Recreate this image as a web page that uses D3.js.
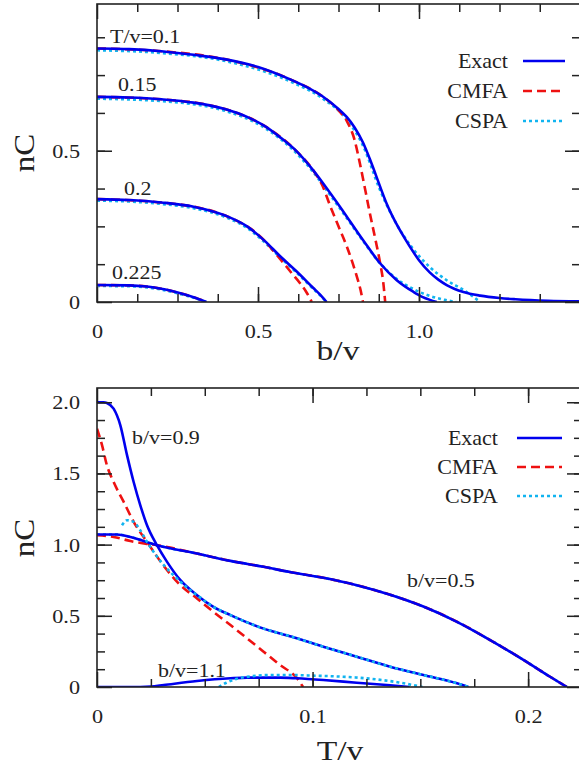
<!DOCTYPE html>
<html lang="en">
<head>
<meta charset="UTF-8">
<title>nC</title>
<script src="https://d3js.org/d3.v7.min.js"></script>
<style>
    body { margin: 0; background: #fff; }
</style>
</head>
<body>
<script>

const width  = 579;
const height = 771;

// ---- top panel: nC vs b/v ----
const topXMajor  = [0, 0.5, 1.0, 1.5];
const topXLabels = ["0", "0.5", "1.0", ""];
const topYMajor  = [0, 0.5];
const topYLabels = ["0", "0.5"];
const topLabels  = ["T/v=0.1", "0.15", "0.2", "0.225"];

const exactT010 = [[0,0.838],[0.1,0.836],[0.2,0.829],[0.3,0.817],[0.4,0.802],[0.5,0.777],[0.6,0.736],[0.65,0.711],[0.7,0.68],[0.75,0.638],[0.776,0.611],[0.8,0.577],[0.826,0.527],[0.85,0.465],[0.879,0.382],[0.9,0.324],[0.93,0.258],[0.96,0.203],[0.982,0.166],[1.0,0.138],[1.034,0.097],[1.06,0.074],[1.086,0.056],[1.138,0.033],[1.19,0.021],[1.25,0.013],[1.3,0.009],[1.4,0.004],[1.5,0.002]];
const cmfaT010  = [[0,0.838],[0.2,0.829],[0.4,0.802],[0.6,0.736],[0.7,0.68],[0.75,0.634],[0.776,0.598],[0.8,0.535],[0.817,0.455],[0.835,0.36],[0.848,0.29],[0.865,0.205],[0.879,0.13],[0.889,0.065],[0.895,0]];
const cspaT010  = [[0,0.832],[0.2,0.823],[0.4,0.796],[0.6,0.729],[0.7,0.673],[0.776,0.603],[0.826,0.517],[0.879,0.37],[0.93,0.258],[0.982,0.175],[1.034,0.115],[1.086,0.072],[1.138,0.04],[1.17,0.016],[1.19,0]];

const exactT015 = [[0,0.678],[0.1,0.676],[0.2,0.670],[0.3,0.659],[0.4,0.637],[0.466,0.612],[0.52,0.582],[0.568,0.545],[0.621,0.497],[0.671,0.436],[0.724,0.36],[0.776,0.282],[0.826,0.205],[0.879,0.128],[0.93,0.073],[0.982,0.034],[1.01,0.017],[1.034,0.007],[1.055,0]];
const cmfaT015  = [[0,0.678],[0.2,0.670],[0.4,0.637],[0.52,0.582],[0.621,0.497],[0.671,0.436],[0.7,0.385],[0.724,0.318],[0.75,0.25],[0.776,0.183],[0.795,0.125],[0.807,0.084],[0.818,0.042],[0.826,0]];
const cspaT015  = [[0,0.672],[0.2,0.664],[0.4,0.631],[0.52,0.576],[0.621,0.49],[0.671,0.43],[0.724,0.354],[0.776,0.277],[0.826,0.202],[0.879,0.128],[0.93,0.077],[0.982,0.043],[1.034,0.02],[1.08,0.007],[1.115,0]];

const exactT020 = [[0,0.340],[0.1,0.337],[0.2,0.329],[0.3,0.315],[0.4,0.285],[0.466,0.250],[0.52,0.203],[0.568,0.152],[0.621,0.100],[0.671,0.047],[0.695,0.022],[0.713,0]];
const cmfaT020  = [[0,0.340],[0.2,0.329],[0.4,0.285],[0.52,0.203],[0.555,0.16],[0.58,0.128],[0.605,0.095],[0.63,0.063],[0.65,0.033],[0.667,0]];
const cspaT020  = [[0,0.335],[0.1,0.332],[0.2,0.324],[0.3,0.310],[0.4,0.280],[0.466,0.245],[0.52,0.198],[0.568,0.148],[0.621,0.096],[0.671,0.044],[0.695,0.02],[0.713,0]];

const exactT0225 = [[0,0.056],[0.1,0.055],[0.155,0.051],[0.2,0.044],[0.259,0.029],[0.3,0.016],[0.34,0]];
const cmfaT0225  = [[0,0.056],[0.1,0.055],[0.155,0.051],[0.2,0.044],[0.259,0.029],[0.3,0.016],[0.34,0]];
const cspaT0225  = [[0,0.053],[0.1,0.052],[0.155,0.048],[0.2,0.041],[0.259,0.026],[0.3,0.014],[0.338,0]];

// ---- bottom panel: nC vs T/v ----
const botXMajor  = [0, 0.1, 0.2];
const botXLabels = ["0", "0.1", "0.2"];
const botYMajor  = [0, 0.5, 1.0, 1.5, 2.0];
const botYLabels = ["0", "0.5", "1.0", "1.5", "2.0"];
const botLabels  = ["b/v=0.9", "b/v=0.5", "b/v=1.1"];

const exactB09 = [[0,2.0],[0.003,2.0],[0.0046,1.995],[0.0077,1.955],[0.0108,1.84],[0.0139,1.63],[0.017,1.44],[0.0201,1.276],[0.0232,1.136],[0.0278,0.996],[0.0325,0.879],[0.0387,0.75],[0.0464,0.645],[0.054,0.563],[0.0619,0.505],[0.0773,0.41],[0.09,0.355],[0.105,0.283],[0.1205,0.213],[0.136,0.142],[0.1514,0.084],[0.167,0.026],[0.1723,0]];
const cmfaB09  = [[0,1.814],[0.0023,1.70],[0.0046,1.557],[0.0077,1.44],[0.0124,1.30],[0.017,1.16],[0.0232,1.019],[0.031,0.85],[0.0387,0.715],[0.0464,0.622],[0.054,0.528],[0.0619,0.435],[0.0696,0.342],[0.0773,0.248],[0.085,0.154],[0.0928,0.061],[0.0956,0]];
const cspaB09  = [[0.0116,1.136],[0.0139,1.171],[0.017,1.16],[0.0201,1.10],[0.0232,1.019],[0.0263,0.949],[0.031,0.856],[0.0371,0.762],[0.0433,0.68],[0.0464,0.645],[0.054,0.563],[0.0619,0.505],[0.0773,0.41],[0.09,0.355],[0.105,0.283],[0.1205,0.213],[0.136,0.142],[0.1514,0.084],[0.167,0.026],[0.1723,0]];

const exactB05 = [[0,1.071],[0.0093,1.071],[0.0155,1.054],[0.0278,0.996],[0.0464,0.937],[0.0619,0.886],[0.0773,0.844],[0.09,0.806],[0.105,0.767],[0.1205,0.715],[0.136,0.648],[0.1514,0.565],[0.167,0.458],[0.1824,0.33],[0.198,0.189],[0.2102,0.072],[0.218,0]];
const cmfaB05  = [[0,1.066],[0.0077,1.054],[0.0155,1.025],[0.0232,1.005],[0.0278,0.996],[0.0464,0.937],[0.0619,0.886],[0.0773,0.844],[0.09,0.806],[0.105,0.767],[0.1205,0.715],[0.136,0.648],[0.1514,0.565],[0.167,0.458],[0.1824,0.33],[0.198,0.189],[0.2102,0.072],[0.218,0]];
const cspaB05  = [[0,1.071],[0.0093,1.071],[0.0155,1.054],[0.0278,0.996],[0.0464,0.937],[0.0619,0.886],[0.0773,0.844],[0.09,0.806],[0.105,0.767],[0.1205,0.715],[0.136,0.648],[0.1514,0.565],[0.167,0.458],[0.1824,0.33],[0.198,0.189],[0.2102,0.072],[0.218,0]];

const exactB11 = [[0,0],[0.02,0],[0.025,0.003],[0.031,0.014],[0.0464,0.042],[0.0619,0.061],[0.0696,0.066],[0.085,0.066],[0.0928,0.061],[0.105,0.049],[0.1205,0.03],[0.136,0.012],[0.145,0]];
const cspaB11  = [[0.0565,0],[0.06,0.03],[0.065,0.058],[0.072,0.076],[0.08,0.084],[0.09,0.084],[0.1,0.08],[0.11,0.075],[0.12,0.067],[0.13,0.053],[0.14,0.032],[0.151,0]];

const legendNames = ["Exact", "CMFA", "CSPA"];

const styles = {
    exact: {color: "#0000ee", dash: null},
    cmfa:  {color: "#ee1111", dash: "9,5"},
    cspa:  {color: "#11b4f0", dash: "3,3"}
};

const serif = "'Liberation Serif', 'Times New Roman', Times";

const svg = d3.select("body").append("svg")
    .attr("width", width)
    .attr("height", height);

function addText(g, str, x, y, size, sx, anchor) {
    return g.append("text")
        .attr("transform", "translate(" + x + "," + y + ") scale(" + sx + ",1)")
        .attr("text-anchor", anchor || "start")
        .style("font-family", serif)
        .style("font-size", size + "px")
        .style("fill", "#222")
        .text(str);
}

function drawPanel(p) {
    const x = d3.scaleLinear().domain(p.xDomain).range([p.left, p.right]);
    const y = d3.scaleLinear().domain(p.yDomain).range([p.bottom, p.top]);
    const g = svg.append("g");

    g.append("clipPath").attr("id", p.id)
        .append("rect")
        .attr("x", p.left).attr("y", p.top)
        .attr("width", p.right - p.left).attr("height", p.bottom - p.top);

    const line = d3.line()
        .x(d => x(d[0]))
        .y(d => y(d[1]))
        .curve(d3.curveMonotoneX);

    const lines = g.append("g").attr("clip-path", "url(#" + p.id + ")");
    p.series.forEach(s => {
        const st = styles[s.type];
        lines.append("path")
            .attr("d", line(s.data))
            .attr("fill", "none")
            .attr("stroke", st.color)
            .attr("stroke-width", 2.6)
            .attr("stroke-dasharray", st.dash);
    });

    // ticks, all pointing inward
    const tickStyle = sel => {
        sel.select(".domain").remove();
        sel.attr("color", "#222");
        sel.selectAll("line").attr("stroke-width", 1.5);
    };
    const noLabel = () => "";

    const axes = [
        [d3.axisBottom(x).tickValues(p.xMinor).tickSize(-8).tickFormat(noLabel), 0, p.bottom],
        [d3.axisTop(x).tickValues(p.xMinor).tickSize(-8).tickFormat(noLabel), 0, p.top],
        [d3.axisTop(x).tickValues(p.xMajor).tickSize(-15).tickFormat(noLabel), 0, p.top],
        [d3.axisLeft(y).tickValues(p.yMinor).tickSize(-8).tickFormat(noLabel), p.left, 0],
        [d3.axisRight(y).tickValues(p.yMinor).tickSize(-8).tickFormat(noLabel), p.right, 0],
        [d3.axisRight(y).tickValues(p.yMajor).tickSize(-15).tickFormat(noLabel), p.right, 0]
    ];
    axes.forEach(a => {
        g.append("g").attr("transform", "translate(" + a[1] + "," + a[2] + ")")
            .call(a[0]).call(tickStyle);
    });

    g.append("g").attr("transform", "translate(0," + p.bottom + ")")
        .call(d3.axisBottom(x).tickValues(p.xMajor).tickSize(-15)
            .tickFormat((d, i) => p.xLabels[i]))
        .call(tickStyle)
        .selectAll("text")
        .attr("y", null).attr("dy", null)
        .attr("transform", "translate(0,36) scale(1.2,1)")
        .style("font-family", serif)
        .style("font-size", "18.5px").style("fill", "#222");

    g.append("g").attr("transform", "translate(" + p.left + ",0)")
        .call(d3.axisLeft(y).tickValues(p.yMajor).tickSize(-15)
            .tickFormat((d, i) => p.yLabels[i]))
        .call(tickStyle)
        .selectAll("text")
        .attr("x", null).attr("dy", null)
        .attr("transform", "translate(-17,6.5) scale(1.2,1)")
        .style("font-family", serif)
        .style("font-size", "18.5px").style("fill", "#222");

    // frame
    g.append("rect")
        .attr("x", p.left).attr("y", p.top)
        .attr("width", p.right - p.left).attr("height", p.bottom - p.top)
        .attr("fill", "none").attr("stroke", "#222").attr("stroke-width", 1.6);

    // axis titles
    addText(g, p.xTitle, p.xTitlePos[0], p.xTitlePos[1], 28, 1.2, "middle");
    g.append("text")
        .attr("transform", "translate(" + p.yTitlePos[0] + "," + p.yTitlePos[1] + ") rotate(-90) scale(1.1,1)")
        .attr("text-anchor", "middle")
        .style("font-family", serif)
        .style("font-size", "30px")
        .style("fill", "#222")
        .text("nC");

    // curve labels
    p.labels.forEach((t, i) => addText(g, t, p.labelPos[i][0], p.labelPos[i][1], 18, 1.22, "start"));

    // legend
    legendNames.forEach((name, i) => {
        const ly = p.legend.y + i * p.legend.dy;
        addText(g, name, p.legend.textX, ly, 22, 1, "end");
        const st = styles[name.toLowerCase()];
        g.append("line")
            .attr("x1", p.legend.x1).attr("x2", p.legend.x2)
            .attr("y1", ly - 7).attr("y2", ly - 7)
            .attr("stroke", st.color).attr("stroke-width", 2.6)
            .attr("stroke-dasharray", st.dash);
    });
}

drawPanel({
    id: "clipTop",
    left: 97, right: 580, top: 4, bottom: 302,
    xDomain: [0, 1.5], yDomain: [0, 0.985],
    xMajor: topXMajor, xLabels: topXLabels,
    xMinor: d3.range(0.125, 1.5, 0.125),
    yMajor: topYMajor, yLabels: topYLabels,
    yMinor: d3.range(0.125, 0.98, 0.125),
    xTitle: "b/v", xTitlePos: [338, 360],
    yTitlePos: [34, 153],
    labels: topLabels,
    labelPos: [[110, 43], [118, 91], [124, 195], [112, 279]],
    legend: {textX: 508, y: 68, dy: 30, x1: 523, x2: 565},
    series: [
        {type: "cspa", data: cspaT010}, {type: "cspa", data: cspaT015},
        {type: "cspa", data: cspaT020}, {type: "cspa", data: cspaT0225},
        {type: "cmfa", data: cmfaT010}, {type: "cmfa", data: cmfaT015},
        {type: "cmfa", data: cmfaT020}, {type: "cmfa", data: cmfaT0225},
        {type: "exact", data: exactT010}, {type: "exact", data: exactT015},
        {type: "exact", data: exactT020}, {type: "exact", data: exactT0225}
    ]
});

drawPanel({
    id: "clipBot",
    left: 97, right: 582, top: 388, bottom: 687,
    xDomain: [0, 0.225], yDomain: [0, 2.1],
    xMajor: botXMajor, xLabels: botXLabels,
    xMinor: d3.range(0.025, 0.225, 0.025),
    yMajor: botYMajor, yLabels: botYLabels,
    yMinor: d3.range(0.125, 2.1, 0.125),
    xTitle: "T/v", xTitlePos: [340, 760],
    yTitlePos: [34, 538],
    labels: botLabels,
    labelPos: [[132, 444], [407, 587], [158, 677]],
    legend: {textX: 498, y: 445, dy: 29, x1: 517, x2: 562},
    series: [
        {type: "cspa", data: cspaB05},
        {type: "cmfa", data: cmfaB09}, {type: "cmfa", data: cmfaB05},
        {type: "exact", data: exactB05}, {type: "exact", data: exactB09},
        {type: "exact", data: exactB11},
        {type: "cspa", data: cspaB09}, {type: "cspa", data: cspaB11}
    ]
});

</script>
</body>
</html>
